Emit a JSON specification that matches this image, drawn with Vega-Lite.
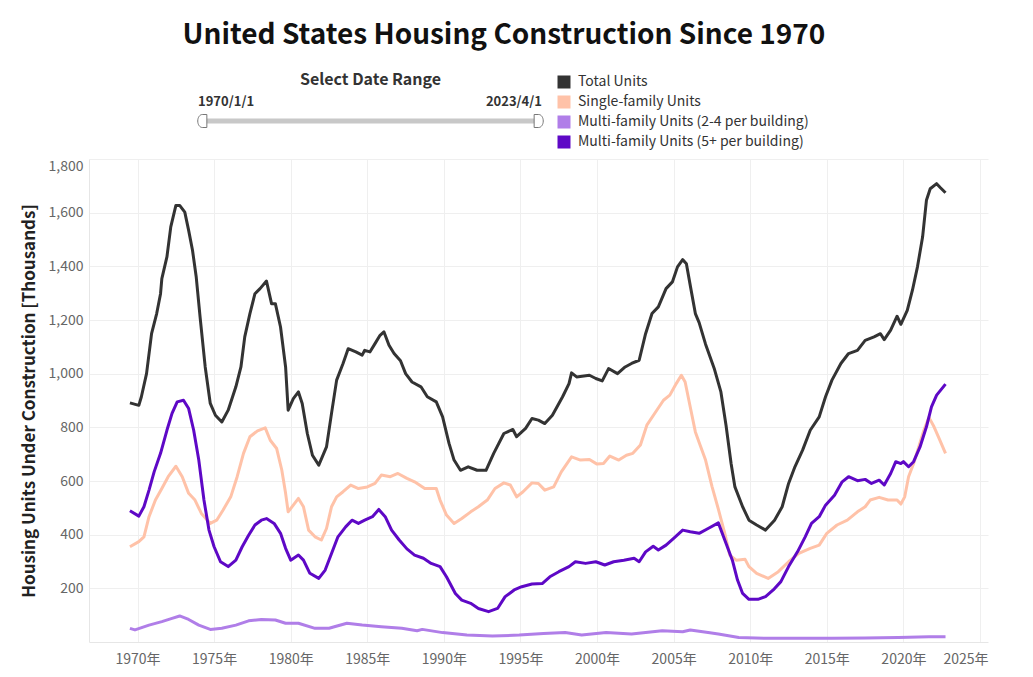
{
  "$schema": "https://vega.github.io/schema/vega-lite/v6.json",
  "padding": {"left": 20, "top": 22, "right": 10, "bottom": 5},
  "background": "white",
  "config": {
    "font": "Noto Sans CJK SC",
    "view": {"stroke": null},
    "axis": {"gridColor": "#efefef", "domainColor": "#e6e6e6", "ticks": false, "labelColor": "#666666", "labelFontSize": 14},
    "legend": {"labelColor": "#333333", "labelFontSize": 14}
  },
  "title": {"text": "United States Housing Construction Since 1970", "fontSize": 28, "fontWeight": "bold", "color": "#111111", "anchor": "middle", "frame": "bounds", "offset": 22},
  "bounds": "flush",
  "spacing": 28,
  "resolve": {"scale": {"x": "independent", "y": "independent", "color": "independent", "shape": "independent"}, "legend": {"color": "independent"}},
  "vconcat": [
    {
      "width": 563,
      "height": 20,
      "title": {"text": "Select Date Range", "fontSize": 16, "fontWeight": "bold", "color": "#333333", "anchor": "middle", "frame": "group", "offset": 8},
      "data": {"values": [
        {"date": "1970-01-01", "label": "1970/1/1", "end": "start"},
        {"date": "2023-04-01", "label": "2023/4/1", "end": "end"}
      ]},
      "layer": [
        {
          "mark": {"type": "rule", "color": "#c8c8c8", "strokeWidth": 5},
          "encoding": {
            "x": {"aggregate": "min", "field": "date", "type": "temporal", "scale": {"domain": ["1970-01-01", "2023-04-01"], "range": [112, 451]}, "axis": null},
            "x2": {"aggregate": "max", "field": "date"}
          }
        },
        {
          "mark": {"type": "point", "filled": true, "fill": "#ffffff", "stroke": "#777777", "strokeWidth": 1, "size": 169, "opacity": 1},
          "encoding": {
            "x": {"field": "date", "type": "temporal"},
            "shape": {"field": "end", "type": "nominal", "scale": {"domain": ["start", "end"], "range": ["M0.9,-1 L0.2,-1 A0.7,1 0 0,0 0.2,1 L0.9,1 Z", "M-0.9,-1 L-0.2,-1 A0.7,1 0 0,1 -0.2,1 L-0.9,1 Z"]}, "legend": null}
          }
        },
        {
          "transform": [{"filter": {"field": "end", "equal": "start"}}],
          "mark": {"type": "text", "align": "left", "baseline": "middle", "dx": -3, "dy": -19, "fontSize": 13, "fontWeight": "bold", "color": "#333333"},
          "encoding": {"x": {"field": "date", "type": "temporal"}, "text": {"field": "label"}}
        },
        {
          "transform": [{"filter": {"field": "end", "equal": "end"}}],
          "mark": {"type": "text", "align": "right", "baseline": "middle", "dx": 2, "dy": -19, "fontSize": 13, "fontWeight": "bold", "color": "#333333"},
          "encoding": {"x": {"field": "date", "type": "temporal"}, "text": {"field": "label"}}
        }
      ]
    },
    {
      "width": 899,
      "height": 483,
      "data": {"values": [
        {"date":"1970-01","series":"Total Units","value":891},{"date":"1970-08","series":"Total Units","value":882},{"date":"1970-10","series":"Total Units","value":914},{"date":"1971-02","series":"Total Units","value":1000},{"date":"1971-06","series":"Total Units","value":1149},{"date":"1971-10","series":"Total Units","value":1224},{"date":"1972-01","series":"Total Units","value":1298},{"date":"1972-02","series":"Total Units","value":1354},{"date":"1972-06","series":"Total Units","value":1435},{"date":"1972-09","series":"Total Units","value":1547},{"date":"1973-01","series":"Total Units","value":1627},{"date":"1973-04","series":"Total Units","value":1627},{"date":"1973-08","series":"Total Units","value":1602},{"date":"1973-11","series":"Total Units","value":1534},{"date":"1974-02","series":"Total Units","value":1460},{"date":"1974-05","series":"Total Units","value":1360},{"date":"1974-08","series":"Total Units","value":1211},{"date":"1974-12","series":"Total Units","value":1025},{"date":"1975-04","series":"Total Units","value":889},{"date":"1975-08","series":"Total Units","value":845},{"date":"1976-01","series":"Total Units","value":820},{"date":"1976-06","series":"Total Units","value":864},{"date":"1976-12","series":"Total Units","value":951},{"date":"1977-04","series":"Total Units","value":1025},{"date":"1977-07","series":"Total Units","value":1137},{"date":"1977-11","series":"Total Units","value":1224},{"date":"1978-03","series":"Total Units","value":1298},{"date":"1978-07","series":"Total Units","value":1317},{"date":"1978-12","series":"Total Units","value":1345},{"date":"1979-04","series":"Total Units","value":1261},{"date":"1979-07","series":"Total Units","value":1261},{"date":"1979-11","series":"Total Units","value":1174},{"date":"1980-03","series":"Total Units","value":1025},{"date":"1980-05","series":"Total Units","value":864},{"date":"1980-09","series":"Total Units","value":907},{"date":"1981-01","series":"Total Units","value":932},{"date":"1981-04","series":"Total Units","value":889},{"date":"1981-08","series":"Total Units","value":777},{"date":"1981-12","series":"Total Units","value":696},{"date":"1982-05","series":"Total Units","value":659},{"date":"1982-11","series":"Total Units","value":727},{"date":"1983-03","series":"Total Units","value":852},{"date":"1983-07","series":"Total Units","value":976},{"date":"1983-12","series":"Total Units","value":1038},{"date":"1984-04","series":"Total Units","value":1093},{"date":"1984-10","series":"Total Units","value":1081},{"date":"1985-03","series":"Total Units","value":1069},{"date":"1985-05","series":"Total Units","value":1087},{"date":"1985-09","series":"Total Units","value":1081},{"date":"1986-01","series":"Total Units","value":1112},{"date":"1986-05","series":"Total Units","value":1143},{"date":"1986-08","series":"Total Units","value":1156},{"date":"1986-12","series":"Total Units","value":1106},{"date":"1987-04","series":"Total Units","value":1075},{"date":"1987-09","series":"Total Units","value":1048},{"date":"1988-01","series":"Total Units","value":1000},{"date":"1988-06","series":"Total Units","value":969},{"date":"1989-01","series":"Total Units","value":951},{"date":"1989-06","series":"Total Units","value":914},{"date":"1990-01","series":"Total Units","value":895},{"date":"1990-06","series":"Total Units","value":839},{"date":"1990-11","series":"Total Units","value":740},{"date":"1991-03","series":"Total Units","value":678},{"date":"1991-08","series":"Total Units","value":640},{"date":"1992-02","series":"Total Units","value":653},{"date":"1992-09","series":"Total Units","value":640},{"date":"1993-04","series":"Total Units","value":640},{"date":"1993-10","series":"Total Units","value":703},{"date":"1994-06","series":"Total Units","value":777},{"date":"1995-01","series":"Total Units","value":792},{"date":"1995-04","series":"Total Units","value":765},{"date":"1995-11","series":"Total Units","value":796},{"date":"1996-04","series":"Total Units","value":833},{"date":"1996-09","series":"Total Units","value":827},{"date":"1997-02","series":"Total Units","value":814},{"date":"1997-08","series":"Total Units","value":845},{"date":"1998-04","series":"Total Units","value":914},{"date":"1998-09","series":"Total Units","value":963},{"date":"1998-11","series":"Total Units","value":1003},{"date":"1999-03","series":"Total Units","value":988},{"date":"2000-01","series":"Total Units","value":994},{"date":"2000-06","series":"Total Units","value":982},{"date":"2000-11","series":"Total Units","value":973},{"date":"2001-04","series":"Total Units","value":1019},{"date":"2001-11","series":"Total Units","value":1000},{"date":"2002-05","series":"Total Units","value":1025},{"date":"2002-10","series":"Total Units","value":1038},{"date":"2003-04","series":"Total Units","value":1050},{"date":"2003-09","series":"Total Units","value":1149},{"date":"2004-02","series":"Total Units","value":1224},{"date":"2004-07","series":"Total Units","value":1249},{"date":"2005-01","series":"Total Units","value":1317},{"date":"2005-06","series":"Total Units","value":1342},{"date":"2005-10","series":"Total Units","value":1398},{"date":"2006-02","series":"Total Units","value":1425},{"date":"2006-05","series":"Total Units","value":1410},{"date":"2006-08","series":"Total Units","value":1329},{"date":"2006-12","series":"Total Units","value":1224},{"date":"2007-03","series":"Total Units","value":1190},{"date":"2007-08","series":"Total Units","value":1110},{"date":"2008-03","series":"Total Units","value":1016},{"date":"2008-08","series":"Total Units","value":932},{"date":"2008-12","series":"Total Units","value":808},{"date":"2009-04","series":"Total Units","value":665},{"date":"2009-07","series":"Total Units","value":578},{"date":"2010-01","series":"Total Units","value":504},{"date":"2010-06","series":"Total Units","value":454},{"date":"2010-12","series":"Total Units","value":436},{"date":"2011-07","series":"Total Units","value":417},{"date":"2012-02","series":"Total Units","value":454},{"date":"2012-08","series":"Total Units","value":504},{"date":"2013-01","series":"Total Units","value":591},{"date":"2013-06","series":"Total Units","value":653},{"date":"2013-12","series":"Total Units","value":715},{"date":"2014-06","series":"Total Units","value":789},{"date":"2015-01","series":"Total Units","value":839},{"date":"2015-06","series":"Total Units","value":914},{"date":"2015-11","series":"Total Units","value":976},{"date":"2016-06","series":"Total Units","value":1038},{"date":"2016-12","series":"Total Units","value":1075},{"date":"2017-07","series":"Total Units","value":1087},{"date":"2018-01","series":"Total Units","value":1124},{"date":"2018-08","series":"Total Units","value":1137},{"date":"2019-01","series":"Total Units","value":1149},{"date":"2019-04","series":"Total Units","value":1127},{"date":"2019-09","series":"Total Units","value":1162},{"date":"2020-02","series":"Total Units","value":1214},{"date":"2020-05","series":"Total Units","value":1184},{"date":"2020-10","series":"Total Units","value":1236},{"date":"2021-02","series":"Total Units","value":1311},{"date":"2021-06","series":"Total Units","value":1398},{"date":"2021-10","series":"Total Units","value":1509},{"date":"2022-01","series":"Total Units","value":1646},{"date":"2022-04","series":"Total Units","value":1689},{"date":"2022-09","series":"Total Units","value":1708},{"date":"2022-12","series":"Total Units","value":1693},{"date":"2023-04","series":"Total Units","value":1674},

        {"date":"1970-01","series":"Single-family Units","value":355},{"date":"1970-08","series":"Single-family Units","value":374},{"date":"1970-12","series":"Single-family Units","value":392},{"date":"1971-04","series":"Single-family Units","value":467},{"date":"1971-09","series":"Single-family Units","value":529},{"date":"1972-02","series":"Single-family Units","value":572},{"date":"1972-07","series":"Single-family Units","value":616},{"date":"1973-01","series":"Single-family Units","value":655},{"date":"1973-06","series":"Single-family Units","value":616},{"date":"1973-11","series":"Single-family Units","value":554},{"date":"1974-04","series":"Single-family Units","value":529},{"date":"1974-09","series":"Single-family Units","value":479},{"date":"1975-04","series":"Single-family Units","value":442},{"date":"1975-09","series":"Single-family Units","value":454},{"date":"1976-02","series":"Single-family Units","value":492},{"date":"1976-08","series":"Single-family Units","value":541},{"date":"1977-01","series":"Single-family Units","value":616},{"date":"1977-06","series":"Single-family Units","value":703},{"date":"1977-11","series":"Single-family Units","value":765},{"date":"1978-05","series":"Single-family Units","value":787},{"date":"1978-11","series":"Single-family Units","value":798},{"date":"1979-03","series":"Single-family Units","value":752},{"date":"1979-08","series":"Single-family Units","value":721},{"date":"1979-12","series":"Single-family Units","value":641},{"date":"1980-03","series":"Single-family Units","value":554},{"date":"1980-05","series":"Single-family Units","value":485},{"date":"1980-09","series":"Single-family Units","value":510},{"date":"1981-01","series":"Single-family Units","value":535},{"date":"1981-05","series":"Single-family Units","value":504},{"date":"1981-09","series":"Single-family Units","value":417},{"date":"1982-02","series":"Single-family Units","value":392},{"date":"1982-07","series":"Single-family Units","value":380},{"date":"1982-11","series":"Single-family Units","value":423},{"date":"1983-03","series":"Single-family Units","value":504},{"date":"1983-07","series":"Single-family Units","value":541},{"date":"1983-12","series":"Single-family Units","value":560},{"date":"1984-06","series":"Single-family Units","value":585},{"date":"1984-12","series":"Single-family Units","value":572},{"date":"1985-07","series":"Single-family Units","value":578},{"date":"1986-01","series":"Single-family Units","value":591},{"date":"1986-06","series":"Single-family Units","value":622},{"date":"1987-01","series":"Single-family Units","value":616},{"date":"1987-07","series":"Single-family Units","value":628},{"date":"1988-02","series":"Single-family Units","value":610},{"date":"1988-08","series":"Single-family Units","value":597},{"date":"1989-04","series":"Single-family Units","value":572},{"date":"1990-01","series":"Single-family Units","value":572},{"date":"1990-04","series":"Single-family Units","value":529},{"date":"1990-09","series":"Single-family Units","value":473},{"date":"1991-03","series":"Single-family Units","value":442},{"date":"1991-09","series":"Single-family Units","value":460},{"date":"1992-04","series":"Single-family Units","value":485},{"date":"1992-10","series":"Single-family Units","value":504},{"date":"1993-05","series":"Single-family Units","value":529},{"date":"1993-11","series":"Single-family Units","value":572},{"date":"1994-06","series":"Single-family Units","value":593},{"date":"1994-11","series":"Single-family Units","value":585},{"date":"1995-04","series":"Single-family Units","value":541},{"date":"1995-09","series":"Single-family Units","value":560},{"date":"1996-04","series":"Single-family Units","value":593},{"date":"1996-09","series":"Single-family Units","value":591},{"date":"1997-02","series":"Single-family Units","value":566},{"date":"1997-09","series":"Single-family Units","value":578},{"date":"1998-03","series":"Single-family Units","value":634},{"date":"1998-11","series":"Single-family Units","value":690},{"date":"1999-06","series":"Single-family Units","value":678},{"date":"2000-01","series":"Single-family Units","value":680},{"date":"2000-07","series":"Single-family Units","value":663},{"date":"2000-12","series":"Single-family Units","value":665},{"date":"2001-05","series":"Single-family Units","value":693},{"date":"2001-12","series":"Single-family Units","value":678},{"date":"2002-06","series":"Single-family Units","value":696},{"date":"2002-11","series":"Single-family Units","value":703},{"date":"2003-05","series":"Single-family Units","value":734},{"date":"2003-10","series":"Single-family Units","value":808},{"date":"2004-05","series":"Single-family Units","value":858},{"date":"2004-11","series":"Single-family Units","value":901},{"date":"2005-04","series":"Single-family Units","value":920},{"date":"2005-09","series":"Single-family Units","value":963},{"date":"2006-01","series":"Single-family Units","value":994},{"date":"2006-04","series":"Single-family Units","value":969},{"date":"2006-08","series":"Single-family Units","value":876},{"date":"2006-12","series":"Single-family Units","value":783},{"date":"2007-04","series":"Single-family Units","value":730},{"date":"2007-08","series":"Single-family Units","value":678},{"date":"2008-01","series":"Single-family Units","value":580},{"date":"2008-06","series":"Single-family Units","value":495},{"date":"2008-11","series":"Single-family Units","value":405},{"date":"2009-03","series":"Single-family Units","value":324},{"date":"2009-08","series":"Single-family Units","value":305},{"date":"2010-03","series":"Single-family Units","value":308},{"date":"2010-06","series":"Single-family Units","value":281},{"date":"2010-12","series":"Single-family Units","value":256},{"date":"2011-09","series":"Single-family Units","value":237},{"date":"2012-05","series":"Single-family Units","value":262},{"date":"2013-01","series":"Single-family Units","value":299},{"date":"2013-09","series":"Single-family Units","value":330},{"date":"2014-06","series":"Single-family Units","value":349},{"date":"2015-01","series":"Single-family Units","value":361},{"date":"2015-07","series":"Single-family Units","value":405},{"date":"2016-03","series":"Single-family Units","value":436},{"date":"2016-11","series":"Single-family Units","value":454},{"date":"2017-07","series":"Single-family Units","value":485},{"date":"2018-01","series":"Single-family Units","value":504},{"date":"2018-05","series":"Single-family Units","value":529},{"date":"2018-12","series":"Single-family Units","value":539},{"date":"2019-07","series":"Single-family Units","value":529},{"date":"2020-02","series":"Single-family Units","value":529},{"date":"2020-05","series":"Single-family Units","value":514},{"date":"2020-08","series":"Single-family Units","value":541},{"date":"2020-11","series":"Single-family Units","value":616},{"date":"2021-03","series":"Single-family Units","value":665},{"date":"2021-07","series":"Single-family Units","value":727},{"date":"2021-11","series":"Single-family Units","value":789},{"date":"2022-03","series":"Single-family Units","value":837},{"date":"2022-07","series":"Single-family Units","value":802},{"date":"2022-11","series":"Single-family Units","value":758},{"date":"2023-04","series":"Single-family Units","value":703},

        {"date":"1970-01","series":"Multi-family Units (2-4 per building)","value":51},{"date":"1970-05","series":"Multi-family Units (2-4 per building)","value":45},{"date":"1971-04","series":"Multi-family Units (2-4 per building)","value":63},{"date":"1972-02","series":"Multi-family Units (2-4 per building)","value":76},{"date":"1972-10","series":"Multi-family Units (2-4 per building)","value":88},{"date":"1973-04","series":"Multi-family Units (2-4 per building)","value":97},{"date":"1973-11","series":"Multi-family Units (2-4 per building)","value":84},{"date":"1974-07","series":"Multi-family Units (2-4 per building)","value":63},{"date":"1975-04","series":"Multi-family Units (2-4 per building)","value":47},{"date":"1976-01","series":"Multi-family Units (2-4 per building)","value":51},{"date":"1976-12","series":"Multi-family Units (2-4 per building)","value":63},{"date":"1977-10","series":"Multi-family Units (2-4 per building)","value":79},{"date":"1978-08","series":"Multi-family Units (2-4 per building)","value":84},{"date":"1979-07","series":"Multi-family Units (2-4 per building)","value":82},{"date":"1980-03","series":"Multi-family Units (2-4 per building)","value":70},{"date":"1981-01","series":"Multi-family Units (2-4 per building)","value":70},{"date":"1982-02","series":"Multi-family Units (2-4 per building)","value":51},{"date":"1983-01","series":"Multi-family Units (2-4 per building)","value":51},{"date":"1984-03","series":"Multi-family Units (2-4 per building)","value":70},{"date":"1985-03","series":"Multi-family Units (2-4 per building)","value":63},{"date":"1986-06","series":"Multi-family Units (2-4 per building)","value":57},{"date":"1987-10","series":"Multi-family Units (2-4 per building)","value":51},{"date":"1988-10","series":"Multi-family Units (2-4 per building)","value":42},{"date":"1989-02","series":"Multi-family Units (2-4 per building)","value":47},{"date":"1990-06","series":"Multi-family Units (2-4 per building)","value":35},{"date":"1992-01","series":"Multi-family Units (2-4 per building)","value":26},{"date":"1993-09","series":"Multi-family Units (2-4 per building)","value":22},{"date":"1995-06","series":"Multi-family Units (2-4 per building)","value":26},{"date":"1997-01","series":"Multi-family Units (2-4 per building)","value":32},{"date":"1998-06","series":"Multi-family Units (2-4 per building)","value":35},{"date":"1999-07","series":"Multi-family Units (2-4 per building)","value":26},{"date":"2001-02","series":"Multi-family Units (2-4 per building)","value":35},{"date":"2002-10","series":"Multi-family Units (2-4 per building)","value":30},{"date":"2004-10","series":"Multi-family Units (2-4 per building)","value":42},{"date":"2006-02","series":"Multi-family Units (2-4 per building)","value":38},{"date":"2006-08","series":"Multi-family Units (2-4 per building)","value":45},{"date":"2007-10","series":"Multi-family Units (2-4 per building)","value":35},{"date":"2008-06","series":"Multi-family Units (2-4 per building)","value":30},{"date":"2009-10","series":"Multi-family Units (2-4 per building)","value":17},{"date":"2011-07","series":"Multi-family Units (2-4 per building)","value":14},{"date":"2013-09","series":"Multi-family Units (2-4 per building)","value":14},{"date":"2015-11","series":"Multi-family Units (2-4 per building)","value":14},{"date":"2018-01","series":"Multi-family Units (2-4 per building)","value":15},{"date":"2020-03","series":"Multi-family Units (2-4 per building)","value":17},{"date":"2022-03","series":"Multi-family Units (2-4 per building)","value":20},{"date":"2023-04","series":"Multi-family Units (2-4 per building)","value":20},

        {"date":"1970-01","series":"Multi-family Units (5+ per building)","value":489},{"date":"1970-08","series":"Multi-family Units (5+ per building)","value":469},{"date":"1970-12","series":"Multi-family Units (5+ per building)","value":504},{"date":"1971-04","series":"Multi-family Units (5+ per building)","value":566},{"date":"1971-08","series":"Multi-family Units (5+ per building)","value":634},{"date":"1972-01","series":"Multi-family Units (5+ per building)","value":703},{"date":"1972-06","series":"Multi-family Units (5+ per building)","value":789},{"date":"1972-10","series":"Multi-family Units (5+ per building)","value":852},{"date":"1973-02","series":"Multi-family Units (5+ per building)","value":895},{"date":"1973-07","series":"Multi-family Units (5+ per building)","value":901},{"date":"1973-11","series":"Multi-family Units (5+ per building)","value":870},{"date":"1974-03","series":"Multi-family Units (5+ per building)","value":789},{"date":"1974-07","series":"Multi-family Units (5+ per building)","value":678},{"date":"1974-11","series":"Multi-family Units (5+ per building)","value":529},{"date":"1975-03","series":"Multi-family Units (5+ per building)","value":417},{"date":"1975-07","series":"Multi-family Units (5+ per building)","value":355},{"date":"1975-12","series":"Multi-family Units (5+ per building)","value":299},{"date":"1976-06","series":"Multi-family Units (5+ per building)","value":281},{"date":"1976-12","series":"Multi-family Units (5+ per building)","value":305},{"date":"1977-05","series":"Multi-family Units (5+ per building)","value":355},{"date":"1977-10","series":"Multi-family Units (5+ per building)","value":398},{"date":"1978-03","series":"Multi-family Units (5+ per building)","value":436},{"date":"1978-08","series":"Multi-family Units (5+ per building)","value":454},{"date":"1978-12","series":"Multi-family Units (5+ per building)","value":460},{"date":"1979-06","series":"Multi-family Units (5+ per building)","value":442},{"date":"1979-11","series":"Multi-family Units (5+ per building)","value":405},{"date":"1980-03","series":"Multi-family Units (5+ per building)","value":349},{"date":"1980-07","series":"Multi-family Units (5+ per building)","value":305},{"date":"1981-01","series":"Multi-family Units (5+ per building)","value":324},{"date":"1981-05","series":"Multi-family Units (5+ per building)","value":305},{"date":"1981-10","series":"Multi-family Units (5+ per building)","value":256},{"date":"1982-05","series":"Multi-family Units (5+ per building)","value":237},{"date":"1982-10","series":"Multi-family Units (5+ per building)","value":268},{"date":"1983-03","series":"Multi-family Units (5+ per building)","value":330},{"date":"1983-08","series":"Multi-family Units (5+ per building)","value":392},{"date":"1984-02","series":"Multi-family Units (5+ per building)","value":429},{"date":"1984-07","series":"Multi-family Units (5+ per building)","value":454},{"date":"1984-12","series":"Multi-family Units (5+ per building)","value":442},{"date":"1985-05","series":"Multi-family Units (5+ per building)","value":454},{"date":"1985-11","series":"Multi-family Units (5+ per building)","value":467},{"date":"1986-04","series":"Multi-family Units (5+ per building)","value":494},{"date":"1986-09","series":"Multi-family Units (5+ per building)","value":467},{"date":"1987-02","series":"Multi-family Units (5+ per building)","value":417},{"date":"1987-08","series":"Multi-family Units (5+ per building)","value":380},{"date":"1988-02","series":"Multi-family Units (5+ per building)","value":347},{"date":"1988-08","series":"Multi-family Units (5+ per building)","value":324},{"date":"1989-03","series":"Multi-family Units (5+ per building)","value":312},{"date":"1989-09","series":"Multi-family Units (5+ per building)","value":293},{"date":"1990-04","series":"Multi-family Units (5+ per building)","value":281},{"date":"1990-09","series":"Multi-family Units (5+ per building)","value":243},{"date":"1991-04","series":"Multi-family Units (5+ per building)","value":181},{"date":"1991-09","series":"Multi-family Units (5+ per building)","value":156},{"date":"1992-04","series":"Multi-family Units (5+ per building)","value":144},{"date":"1992-10","series":"Multi-family Units (5+ per building)","value":125},{"date":"1993-06","series":"Multi-family Units (5+ per building)","value":113},{"date":"1994-01","series":"Multi-family Units (5+ per building)","value":125},{"date":"1994-07","series":"Multi-family Units (5+ per building)","value":169},{"date":"1995-02","series":"Multi-family Units (5+ per building)","value":194},{"date":"1995-08","series":"Multi-family Units (5+ per building)","value":206},{"date":"1996-04","series":"Multi-family Units (5+ per building)","value":216},{"date":"1996-12","series":"Multi-family Units (5+ per building)","value":218},{"date":"1997-06","series":"Multi-family Units (5+ per building)","value":243},{"date":"1998-01","series":"Multi-family Units (5+ per building)","value":262},{"date":"1998-09","series":"Multi-family Units (5+ per building)","value":281},{"date":"1999-02","series":"Multi-family Units (5+ per building)","value":299},{"date":"1999-10","series":"Multi-family Units (5+ per building)","value":293},{"date":"2000-06","series":"Multi-family Units (5+ per building)","value":299},{"date":"2001-01","series":"Multi-family Units (5+ per building)","value":287},{"date":"2001-08","series":"Multi-family Units (5+ per building)","value":299},{"date":"2002-04","series":"Multi-family Units (5+ per building)","value":305},{"date":"2002-12","series":"Multi-family Units (5+ per building)","value":312},{"date":"2003-04","series":"Multi-family Units (5+ per building)","value":299},{"date":"2003-09","series":"Multi-family Units (5+ per building)","value":336},{"date":"2004-03","series":"Multi-family Units (5+ per building)","value":357},{"date":"2004-07","series":"Multi-family Units (5+ per building)","value":343},{"date":"2005-01","series":"Multi-family Units (5+ per building)","value":361},{"date":"2005-07","series":"Multi-family Units (5+ per building)","value":386},{"date":"2006-02","series":"Multi-family Units (5+ per building)","value":417},{"date":"2006-08","series":"Multi-family Units (5+ per building)","value":411},{"date":"2007-03","series":"Multi-family Units (5+ per building)","value":405},{"date":"2007-10","series":"Multi-family Units (5+ per building)","value":423},{"date":"2008-06","series":"Multi-family Units (5+ per building)","value":444},{"date":"2008-11","series":"Multi-family Units (5+ per building)","value":380},{"date":"2009-05","series":"Multi-family Units (5+ per building)","value":305},{"date":"2009-09","series":"Multi-family Units (5+ per building)","value":231},{"date":"2010-01","series":"Multi-family Units (5+ per building)","value":181},{"date":"2010-06","series":"Multi-family Units (5+ per building)","value":159},{"date":"2011-01","series":"Multi-family Units (5+ per building)","value":159},{"date":"2011-07","series":"Multi-family Units (5+ per building)","value":169},{"date":"2012-01","series":"Multi-family Units (5+ per building)","value":194},{"date":"2012-07","series":"Multi-family Units (5+ per building)","value":225},{"date":"2013-01","series":"Multi-family Units (5+ per building)","value":281},{"date":"2013-08","series":"Multi-family Units (5+ per building)","value":336},{"date":"2014-02","series":"Multi-family Units (5+ per building)","value":392},{"date":"2014-07","series":"Multi-family Units (5+ per building)","value":442},{"date":"2015-01","series":"Multi-family Units (5+ per building)","value":467},{"date":"2015-06","series":"Multi-family Units (5+ per building)","value":510},{"date":"2016-01","series":"Multi-family Units (5+ per building)","value":547},{"date":"2016-07","series":"Multi-family Units (5+ per building)","value":597},{"date":"2016-12","series":"Multi-family Units (5+ per building)","value":616},{"date":"2017-07","series":"Multi-family Units (5+ per building)","value":601},{"date":"2018-01","series":"Multi-family Units (5+ per building)","value":606},{"date":"2018-06","series":"Multi-family Units (5+ per building)","value":591},{"date":"2018-12","series":"Multi-family Units (5+ per building)","value":603},{"date":"2019-04","series":"Multi-family Units (5+ per building)","value":585},{"date":"2019-09","series":"Multi-family Units (5+ per building)","value":628},{"date":"2020-01","series":"Multi-family Units (5+ per building)","value":672},{"date":"2020-05","series":"Multi-family Units (5+ per building)","value":665},{"date":"2020-07","series":"Multi-family Units (5+ per building)","value":672},{"date":"2020-11","series":"Multi-family Units (5+ per building)","value":653},{"date":"2021-03","series":"Multi-family Units (5+ per building)","value":672},{"date":"2021-08","series":"Multi-family Units (5+ per building)","value":727},{"date":"2022-01","series":"Multi-family Units (5+ per building)","value":802},{"date":"2022-05","series":"Multi-family Units (5+ per building)","value":876},{"date":"2022-09","series":"Multi-family Units (5+ per building)","value":920},{"date":"2023-04","series":"Multi-family Units (5+ per building)","value":961}
      ]},
      "mark": {"type": "line", "strokeWidth": 3, "strokeJoin": "round"},
      "encoding": {
        "x": {
          "field": "date", "type": "temporal",
          "scale": {"domain": ["1967-05-01", "2026-01-08"]},
          "axis": {
            "title": null, "format": "%Y年", "labelPadding": 10, "labelFlush": 10, "labelFlushOffset": 8,
            "values": [
              {"year": 1970, "month": 7, "date": 1}, {"year": 1975, "month": 7, "date": 1}, {"year": 1980, "month": 7, "date": 1},
              {"year": 1985, "month": 7, "date": 1}, {"year": 1990, "month": 7, "date": 1}, {"year": 1995, "month": 7, "date": 1},
              {"year": 2000, "month": 7, "date": 1}, {"year": 2005, "month": 7, "date": 1}, {"year": 2010, "month": 7, "date": 1},
              {"year": 2015, "month": 7, "date": 1}, {"year": 2020, "month": 7, "date": 1}, {"year": 2025, "month": 7, "date": 1}
            ]
          }
        },
        "y": {
          "field": "value", "type": "quantitative",
          "scale": {"domain": [0, 1800], "nice": false},
          "axis": {
            "title": "Housing Units Under Construction [Thousands]", "titleFontSize": 17, "titleFontWeight": "bold", "titleColor": "#222222", "titlePadding": 10,
            "values": [200, 400, 600, 800, 1000, 1200, 1400, 1600, 1800], "format": ",d", "labelPadding": 6, "labelFlush": true
          }
        },
        "color": {
          "field": "series", "type": "nominal",
          "scale": {
            "domain": ["Total Units", "Single-family Units", "Multi-family Units (2-4 per building)", "Multi-family Units (5+ per building)"],
            "range": ["#333333", "#ffc2a8", "#b07ee8", "#5e08c6"]
          },
          "legend": {
            "orient": "none", "legendX": 468, "legendY": -84, "title": null, "direction": "vertical",
            "symbolType": "square", "symbolSize": 42, "symbolStrokeWidth": 6.5, "rowPadding": 6, "clipHeight": 14, "labelOffset": 7, "labelLimit": 400
          }
        }
      }
    }
  ]
}
